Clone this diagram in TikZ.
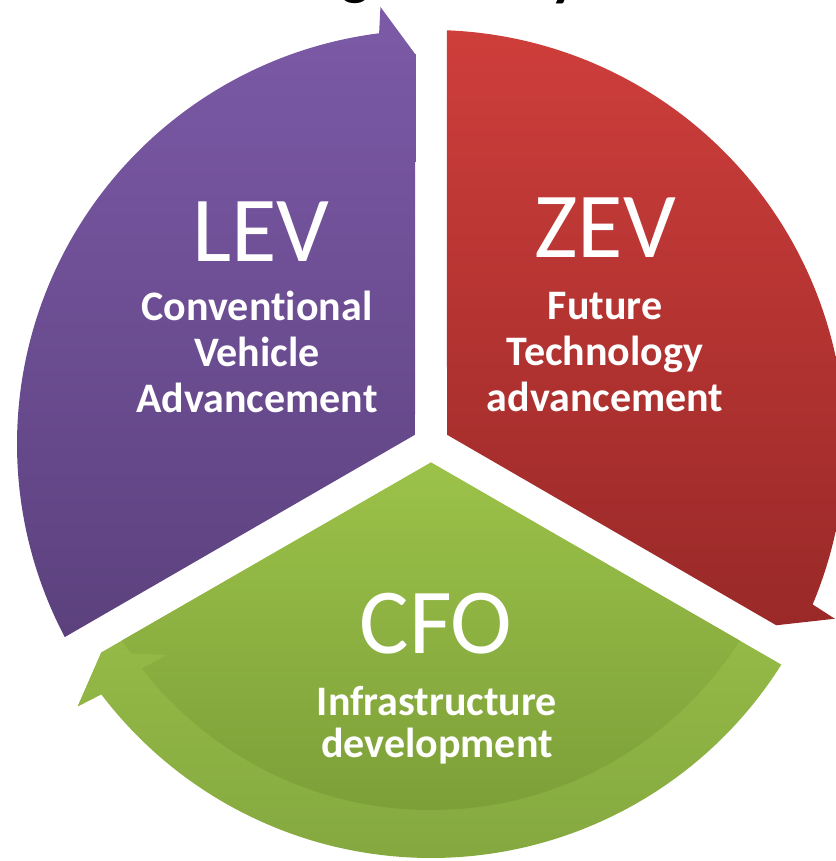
\documentclass[tikz,border=0pt]{standalone}
\usepackage{fontspec}
\setmainfont{Carlito}[Ligatures=NoCommon]
\usetikzlibrary{positioning}

\definecolor{levtop}{HTML}{7C5AA7}
\definecolor{levbot}{HTML}{5C417E}
\definecolor{zevtop}{HTML}{CE3E3B}
\definecolor{zevbot}{HTML}{992928}
\definecolor{cfotop}{HTML}{A3C94D}
\definecolor{cfobot}{HTML}{84A83F}
\definecolor{cfoinnertop}{HTML}{9DC44A}
\definecolor{cfoinnerbot}{HTML}{789A36}

\tikzset{
  headline/.style={text=white,font=\fontsize{93}{100}\selectfont,anchor=base,inner sep=0pt},
  subline/.style={text=white,font=\bfseries\fontsize{42}{46}\selectfont,align=center,anchor=base,inner sep=0pt},
  titlebit/.style={text=black,font=\bfseries\fontsize{60}{60}\selectfont,anchor=south,inner sep=0pt}
}

% one segment of the ring, arrow at angle #1
\newcommand{\cyclepath}[1]{
  (#1+60:18.5) -- (#1+117.8:414) arc[start angle=#1+117.8,end angle=#1+7.2,radius=414]
  -- (#1+6.6:440) -- (#1+2.3:390) -- cycle
}

\begin{document}
\begin{tikzpicture}[x=1pt,y=1pt]
  \useasboundingbox (-431,-417) rectangle (404,444);

  \node [titlebit] (tg) at (-75,440) {g};
  \node [titlebit] (ty) at (134,440) {y};

  \shade [top color=levtop,bottom color=levbot] \cyclepath{90};
  \shade [top color=zevtop,bottom color=zevbot] \cyclepath{-30};

  \begin{scope}
    \clip \cyclepath{210};
    \shade [top color=cfotop,bottom color=cfobot] (-420,-420) rectangle (420,0);
    \clip (0,0) circle (366);
    \shade [top color=cfoinnertop,bottom color=cfoinnerbot] (-420,-420) rectangle (420,0);
  \end{scope}
  \begin{scope}
    \clip (217.2:414) -- (216.6:440) -- (212.3:390) -- (218.6:338) -- (217.8:366) -- cycle;
    \shade [top color=cfotop,bottom color=cfobot] (-420,-420) rectangle (420,0);
  \end{scope}

  % last line of each text sits on the given point
  \node [headline] (lev) at (-170,182) {LEV};
  \node [subline] (levtxt) at (-174,31) {Conventional\\Vehicle\\Advancement};

  \node [headline] (zev) at (174,186) {ZEV};
  \node [subline] (zevtxt) at (174,32) {Future\\Technology\\advancement};

  \node [headline] (cfo) at (5,-209) {CFO};
  \node [subline,font=\bfseries\fontsize{42}{42}\selectfont] (cfotxt) at (6,-313) {Infrastructure\\development};
\end{tikzpicture}
\end{document}
